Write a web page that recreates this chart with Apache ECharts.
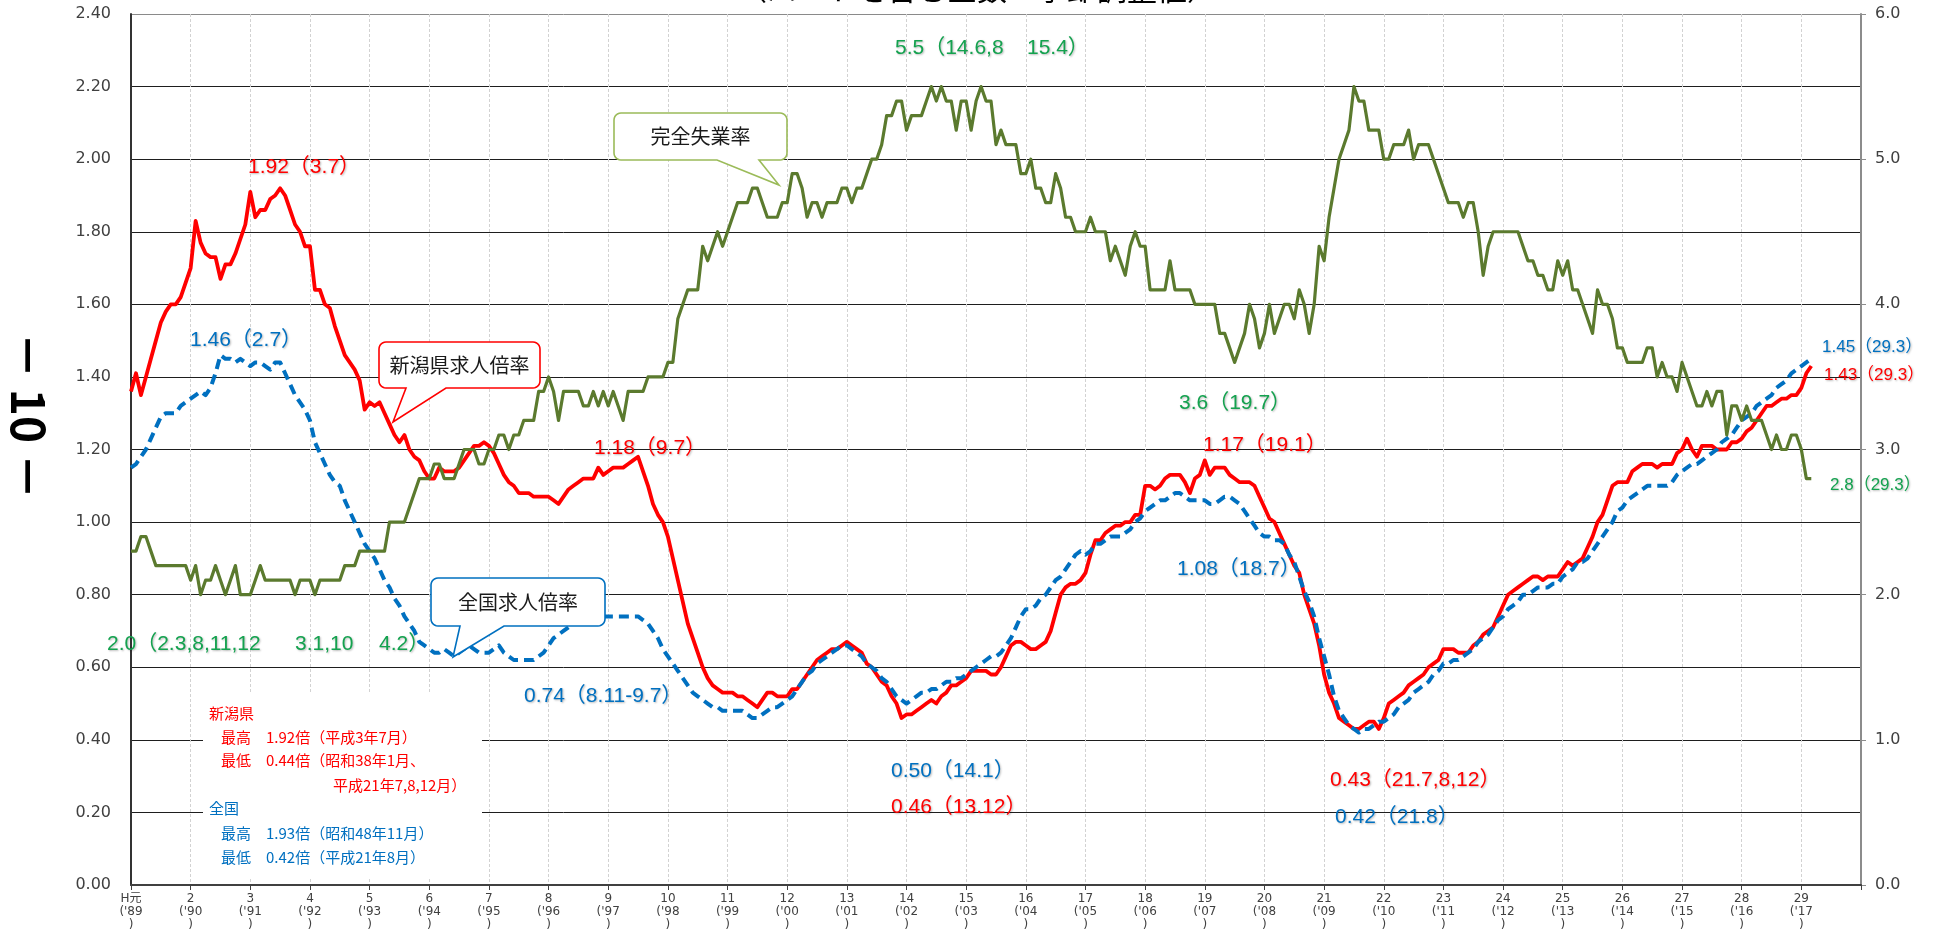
<!DOCTYPE html>
<html><head><meta charset="utf-8">
<script src="https://cdn.jsdelivr.net/npm/echarts@6/dist/echarts.min.js"></script>
<style>html,body{margin:0;padding:0;background:#fff}#c{width:1937px;height:931px}</style>
</head><body><div id="c"></div>
<script>
// ---- tick labels ----
const eraYears = ['H元','2','3','4','5','6','7','8','9','10','11','12','13','14','15','16','17','18','19','20','21','22','23','24','25','26','27','28','29'];
const westYears = ["'89","'90","'91","'92","'93","'94","'95","'96","'97","'98","'99","'00","'01","'02","'03","'04","'05","'06","'07","'08","'09","'10","'11","'12","'13","'14","'15","'16","'17"];
const leftTicks = [0,0.2,0.4,0.6,0.8,1.0,1.2,1.4,1.6,1.8,2.0,2.2,2.4];
const rightTicks = [0,1,2,3,4,5,6];

// ---- monthly series, H元(1989).1 .. H29(2017).3 ----
const niigata = [1.36,1.41,1.35,1.40,1.45,1.50,1.55,1.58,1.60,1.60,1.62,1.66,1.70,
1.83,1.77,1.74,1.73,1.73,1.67,1.71,1.71,1.74,1.78,1.82,1.91,
1.84,1.86,1.86,1.89,1.90,1.92,1.90,1.86,1.82,1.80,1.76,1.76,
1.64,1.64,1.60,1.59,1.54,1.50,1.46,1.44,1.42,1.39,1.31,1.33,
1.32,1.33,1.30,1.27,1.24,1.22,1.24,1.20,1.18,
1.17,1.14,1.12,1.12,1.15,1.14,1.14,1.14,1.15,1.17,1.19,1.21,
1.21,1.22,1.21,1.19,1.16,1.13,1.11,1.10,1.08,1.08,1.08,1.07,
1.07,1.07,1.07,1.06,1.05,1.07,1.09,1.10,1.11,1.12,1.12,1.12,
1.15,1.13,1.14,1.15,1.15,1.15,1.16,1.17,1.18,1.14,1.10,1.05,
1.02,1.00,0.96,0.90,0.84,0.78,0.72,0.68,0.64,0.60,0.57,
0.55,0.54,0.53,0.53,0.53,0.52,0.52,0.51,0.50,0.49,0.51,0.53,
0.53,0.52,0.52,0.52,0.54,0.54,0.56,0.58,0.60,0.62,0.63,0.64,
0.65,0.65,0.66,0.67,0.66,0.65,0.64,0.61,0.60,0.58,0.56,0.55,
0.52,0.50,0.46,0.47,0.47,0.48,0.49,0.50,0.51,0.50,0.52,0.53,
0.55,0.55,0.56,0.57,0.59,0.59,0.59,0.59,0.58,0.58,0.60,0.63,
0.66,0.67,0.67,0.66,0.65,0.65,0.66,0.67,0.70,0.75,0.80,0.82,
0.83,0.83,0.84,0.86,0.91,0.95,0.95,0.97,0.98,0.99,0.99,1.00,
1.00,1.02,1.02,1.10,1.10,1.09,1.10,1.12,1.13,1.13,1.13,1.11,
1.08,1.12,1.13,1.17,1.13,1.15,1.15,1.15,1.13,1.12,1.11,1.11,
1.11,1.10,1.07,1.04,1.01,1.00,0.97,0.94,
0.91,0.88,0.86,0.80,0.76,0.72,0.66,0.58,0.53,0.50,0.46,0.45,
0.44,0.43,0.43,0.44,0.45,0.45,0.43,0.46,0.50,0.51,0.52,0.53,
0.55,0.56,0.57,0.58,0.60,0.61,0.62,0.65,0.65,0.65,0.64,0.64,
0.64,0.66,0.67,0.69,0.70,0.71,0.74,0.77,0.80,0.81,0.82,0.83,
0.84,0.85,0.85,0.84,0.85,0.85,0.85,0.87,0.89,0.88,0.89,
0.90,0.93,0.96,1.00,1.02,1.06,1.10,1.11,1.11,1.11,1.14,1.15,
1.16,1.16,1.16,1.15,1.16,1.16,1.16,1.19,1.20,1.23,1.20,1.18,
1.21,1.21,1.21,1.20,1.20,1.20,1.22,1.22,1.23,1.25,1.26,1.28,
1.30,1.32,1.32,1.33,1.34,1.34,1.35,1.35,1.37,1.41,1.43];

const national = [1.15,1.16,1.18,1.20,1.23,1.26,1.29,1.30,1.30,1.30,1.32,1.33,1.34,
1.35,1.36,1.35,1.37,1.41,1.46,1.45,1.45,1.44,1.45,1.44,1.43,
1.44,1.44,1.43,1.42,1.44,1.44,1.41,1.38,1.35,1.33,1.31,1.28,
1.22,1.19,1.16,1.13,1.11,1.10,1.06,1.03,1.00,0.97,0.94,0.92,
0.90,0.87,0.84,0.82,0.79,0.77,0.74,0.72,0.70,
0.67,0.66,0.65,0.64,0.64,0.65,0.64,0.63,0.64,0.65,0.66,0.65,
0.64,0.64,0.64,0.65,0.66,0.64,0.63,0.62,0.62,0.62,0.62,0.62,
0.63,0.64,0.66,0.68,0.69,0.70,0.71,0.72,0.72,0.73,0.73,0.74,
0.74,0.74,0.74,0.74,0.74,0.74,0.74,0.74,0.74,0.73,0.72,0.70,
0.68,0.65,0.63,0.61,0.59,0.57,0.55,0.53,0.52,0.51,0.50,
0.49,0.49,0.48,0.48,0.48,0.48,0.48,0.47,0.46,0.46,0.47,0.48,
0.49,0.49,0.50,0.51,0.52,0.54,0.56,0.58,0.59,0.61,0.62,0.63,
0.64,0.65,0.66,0.66,0.65,0.64,0.63,0.61,0.60,0.59,0.57,0.56,
0.54,0.52,0.51,0.50,0.51,0.52,0.53,0.53,0.54,0.54,0.55,0.56,
0.56,0.57,0.57,0.58,0.59,0.60,0.61,0.62,0.63,0.63,0.64,0.66,
0.68,0.71,0.74,0.76,0.76,0.77,0.79,0.80,0.82,0.84,0.85,0.87,
0.89,0.91,0.92,0.91,0.92,0.94,0.94,0.95,0.96,0.96,0.96,0.97,
0.98,1.00,1.01,1.03,1.04,1.05,1.06,1.06,1.07,1.08,1.08,1.07,
1.06,1.06,1.06,1.06,1.05,1.05,1.06,1.07,1.07,1.06,1.05,1.03,
1.01,0.99,0.97,0.96,0.96,0.95,0.95,0.94,
0.91,0.89,0.85,0.81,0.78,0.74,0.68,0.63,0.58,0.52,0.48,0.46,
0.44,0.43,0.42,0.43,0.43,0.44,0.45,0.45,0.46,0.47,0.49,0.50,
0.51,0.53,0.54,0.55,0.56,0.58,0.59,0.61,0.61,0.62,0.62,0.63,
0.64,0.65,0.67,0.68,0.69,0.71,0.73,0.74,0.76,0.77,0.78,0.80,
0.80,0.81,0.82,0.82,0.82,0.83,0.83,0.85,0.86,0.87,0.89,
0.89,0.90,0.92,0.94,0.96,0.98,1.00,1.03,1.04,1.06,1.07,1.08,
1.09,1.10,1.10,1.10,1.10,1.10,1.11,1.13,1.14,1.15,1.16,1.16,
1.17,1.18,1.19,1.20,1.22,1.23,1.24,1.26,1.28,1.29,1.30,1.32,
1.33,1.34,1.35,1.37,1.38,1.39,1.41,1.42,1.43,1.44,1.45];

const unemployment = [2.3,2.3,2.4,2.4,2.3,2.2,2.2,2.2,2.2,2.2,2.2,2.2,2.1,
2.2,2.0,2.1,2.1,2.2,2.1,2.0,2.1,2.2,2.0,2.0,2.0,
2.1,2.2,2.1,2.1,2.1,2.1,2.1,2.1,2.0,2.1,2.1,2.1,
2.0,2.1,2.1,2.1,2.1,2.1,2.2,2.2,2.2,2.3,2.3,2.3,
2.3,2.3,2.3,2.5,2.5,2.5,2.5,2.6,2.7,
2.8,2.8,2.8,2.9,2.9,2.8,2.8,2.8,2.9,3.0,3.0,3.0,
2.9,2.9,3.0,3.0,3.1,3.1,3.0,3.1,3.1,3.2,3.2,3.2,
3.4,3.4,3.5,3.4,3.2,3.4,3.4,3.4,3.4,3.3,3.3,3.4,
3.3,3.4,3.3,3.4,3.3,3.2,3.4,3.4,3.4,3.4,3.5,3.5,
3.5,3.5,3.6,3.6,3.9,4.0,4.1,4.1,4.1,4.4,4.3,
4.4,4.5,4.4,4.5,4.6,4.7,4.7,4.7,4.8,4.8,4.7,4.6,
4.6,4.6,4.7,4.7,4.9,4.9,4.8,4.6,4.7,4.7,4.6,4.7,
4.7,4.7,4.8,4.8,4.7,4.8,4.8,4.9,5.0,5.0,5.1,5.3,
5.3,5.4,5.4,5.2,5.3,5.3,5.3,5.4,5.5,5.4,5.5,5.4,
5.4,5.2,5.4,5.4,5.2,5.4,5.5,5.4,5.4,5.1,5.2,5.1,
5.1,5.1,4.9,4.9,5.0,4.8,4.8,4.7,4.7,4.9,4.8,4.6,
4.6,4.5,4.5,4.5,4.6,4.5,4.5,4.5,4.3,4.4,4.3,4.2,
4.4,4.5,4.4,4.4,4.1,4.1,4.1,4.1,4.3,4.1,4.1,4.1,
4.1,4.0,4.0,4.0,4.0,4.0,3.8,3.8,3.7,3.6,3.7,3.8,
4.0,3.9,3.7,3.8,4.0,3.8,3.9,4.0,
4.0,3.9,4.1,4.0,3.8,4.0,4.4,4.3,4.6,4.8,5.0,5.1,
5.2,5.5,5.4,5.4,5.2,5.2,5.2,5.0,5.0,5.1,5.1,5.1,
5.2,5.0,5.1,5.1,5.1,5.0,4.9,4.8,4.7,4.7,4.7,4.6,
4.7,4.7,4.5,4.2,4.4,4.5,4.5,4.5,4.5,4.5,4.5,4.4,
4.3,4.3,4.2,4.2,4.1,4.1,4.3,4.2,4.3,4.1,4.1,
4.0,3.9,3.8,4.1,4.0,4.0,3.9,3.7,3.7,3.6,3.6,3.6,
3.6,3.7,3.7,3.5,3.6,3.5,3.5,3.4,3.6,3.5,3.4,3.3,
3.3,3.4,3.3,3.4,3.4,3.1,3.3,3.3,3.2,3.3,3.2,3.2,
3.2,3.1,3.0,3.1,3.0,3.0,3.1,3.1,3.0,2.8,2.8];

const chart = echarts.init(document.getElementById('c'), null, {renderer:'canvas'});

const LBL = '"Liberation Sans","Noto Sans CJK JP",sans-serif';
const JP = '"Noto Sans CJK JP",sans-serif';
const AX = '"DejaVu Sans","Noto Sans CJK JP",sans-serif';
const RED = '#ff0000', BLUE = '#0070c0', GREEN = '#14a24f';

function label(x, y, text, color, size, font) {
  return { type:'text', z:30, style:{ text, x, y, fill:color,
    font:(size||21)+'px '+(font||LBL), align:'left', verticalAlign:'middle',
    textAlign:'left', textVerticalAlign:'middle',
    textShadowColor:'rgba(0,0,0,0.28)', textShadowBlur:2, textShadowOffsetX:1, textShadowOffsetY:1 } };
}
function plain(x, y, text, color, size, font) {
  return { type:'text', z:30, style:{ text, x, y, fill:color,
    font:(size||15)+'px '+(font||JP), align:'left', verticalAlign:'middle',
    textAlign:'left', textVerticalAlign:'middle' } };
}
function callout(x0, y0, x1, y1, ptr, stroke, text) {
  const r = 7, pts = [];
  const arc = (cx, cy, a0, a1) => { for (let k = 0; k <= 6; k++) { const a = a0 + (a1 - a0) * k / 6; pts.push([cx + r * Math.cos(a), cy + r * Math.sin(a)]); } };
  arc(x0 + r, y0 + r, Math.PI, 1.5 * Math.PI);
  arc(x1 - r, y0 + r, 1.5 * Math.PI, 2 * Math.PI);
  arc(x1 - r, y1 - r, 0, 0.5 * Math.PI);
  ptr.forEach(p => pts.push(p));
  arc(x0 + r, y1 - r, 0.5 * Math.PI, Math.PI);
  return [
    { type:'polygon', z:25, shape:{ points:pts }, style:{ fill:'#fff', stroke, lineWidth:1.6 } },
    { type:'text', z:26, style:{ text, x:(x0 + x1) / 2, y:(y0 + y1) / 2, fill:'#1a1a1a', font:'20px '+JP,
      align:'center', verticalAlign:'middle', textAlign:'center', textVerticalAlign:'middle' } }
  ];
}

const graphics = [
  // info box background
  { type:'rect', z:20, shape:{ x:203, y:693, width:279, height:184 }, style:{ fill:'#fff' } },
  plain(209, 713, '新潟県', RED),
  plain(221, 737, '最高　1.92倍（平成3年7月）', RED),
  plain(221, 760, '最低　0.44倍（昭和38年1月、', RED),
  plain(333, 785, '平成21年7,8,12月）', RED),
  plain(209, 808, '全国', BLUE),
  plain(221, 833, '最高　1.93倍（昭和48年11月）', BLUE),
  plain(221, 857, '最低　0.42倍（平成21年8月）', BLUE),
  ...callout(379, 342, 540, 388, [[446,388],[393,422],[406,388]], RED, '新潟県求人倍率'),
  ...callout(614, 113, 787, 160, [[759,160],[779,185],[717,160]], '#9bbb59', '完全失業率'),
  ...callout(431, 578, 605, 626, [[504,626],[453,657],[460,626]], BLUE, '全国求人倍率'),
  label(895, 48, '5.5（14.6,8', GREEN), label(1027, 48, '15.4）', GREEN),
  label(248, 167, '1.92（3.7）', RED),
  label(190, 340, '1.46（2.7）', BLUE),
  label(594, 448, '1.18（9.7）', RED),
  label(1179, 403, '3.6（19.7）', GREEN),
  label(1203, 445, '1.17（19.1）', RED),
  label(1822, 347, '1.45（29.3）', BLUE, 17),
  label(1824, 375, '1.43（29.3）', RED, 17),
  label(1830, 485, '2.8（29.3）', GREEN, 17),
  label(1177, 569, '1.08（18.7）', BLUE),
  label(891, 771, '0.50（14.1）', BLUE),
  label(891, 807, '0.46（13.12）', RED),
  label(1330, 780, '0.43（21.7,8,12）', RED),
  label(1335, 817, '0.42（21.8）', BLUE),
  label(524, 696, '0.74（8.11-9.7）', BLUE),
  label(107, 644, '2.0（2.3,8,11,12', GREEN), label(295, 644, '3.1,10', GREEN), label(379, 644, '4.2）', GREEN),
  // page number (rotated)
  { type:'text', z:30, x:28, y:416, rotation:-Math.PI / 2,
    style:{ text:'－ 10 －', x:0, y:0, fill:'#000', font:'bold 46px "Liberation Sans Narrow","Noto Sans CJK JP",sans-serif',
      align:'center', verticalAlign:'middle', textAlign:'center', textVerticalAlign:'middle' } },
  // clipped heading at the very top
  { type:'text', z:30, style:{ text:'（パートを含む全数・季節調整値）', x:977, y:-11, fill:'#000', font:'30px '+JP,
      align:'center', verticalAlign:'middle', textAlign:'center', textVerticalAlign:'middle' } }
];

const splitColors = leftTicks.map((t, i) => i === leftTicks.length - 1 ? '#8a8a8a' : '#1e1e1e');

const option = {
  animation:false,
  backgroundColor:'#fff',
  grid:{ left:131, right:76, top:14, bottom:46 },
  xAxis:{ type:'value', min:0, max:348, interval:12,
    axisLine:{ show:true, onZero:false, lineStyle:{ color:'#404040', width:2 } },
    axisTick:{ show:true, length:5, lineStyle:{ color:'#404040', width:1 } },
    axisLabel:{ margin:7, fontFamily:AX, fontSize:12, lineHeight:13, color:'#404040', showMaxLabel:true,
      formatter:(v) => { const i = Math.round(v / 12); if (i >= eraYears.length) return ''; return eraYears[i] + '\n(' + westYears[i] + '\n)'; } },
    splitLine:{ show:true, lineStyle:{ color:'#d2d2d2', width:1, type:[3,2] } } },
  yAxis:[
    { type:'value', min:leftTicks[0], max:leftTicks[leftTicks.length - 1], interval:0.2, position:'left',
      axisLine:{ show:true, lineStyle:{ color:'#333', width:2 } }, axisTick:{ show:false },
      axisLabel:{ margin:20, fontFamily:AX, fontSize:16, color:'#404040', formatter:(v) => v.toFixed(2) },
      splitLine:{ show:true, lineStyle:{ color:splitColors, width:1 } } },
    { type:'value', min:rightTicks[0], max:rightTicks[rightTicks.length - 1], interval:1, position:'right',
      axisLine:{ show:true, lineStyle:{ color:'#8c8c8c', width:2 } },
      axisTick:{ show:true, length:5, lineStyle:{ color:'#8c8c8c' } },
      axisLabel:{ margin:14, fontFamily:AX, fontSize:16, color:'#404040', formatter:(v) => v.toFixed(1) },
      splitLine:{ show:false } }
  ],
  series:[
    { name:'新潟県求人倍率', type:'line', yAxisIndex:0, z:3, symbol:'none', showSymbol:false,
      data:niigata.map((v, i) => [i, v]), lineStyle:{ color:RED, width:3.8, join:'round' } },
    { name:'全国求人倍率', type:'line', yAxisIndex:0, z:4, symbol:'none', showSymbol:false,
      data:national.map((v, i) => [i, v]), lineStyle:{ color:BLUE, width:4, type:[10,6], join:'round' } },
    { name:'完全失業率', type:'line', yAxisIndex:1, z:5, symbol:'none', showSymbol:false,
      data:unemployment.map((v, i) => [i, v]), lineStyle:{ color:'#5b7a2e', width:3.2, join:'round' } }
  ],
  graphic:{ elements:graphics }
};
chart.setOption(option);
</script>
</body></html>
